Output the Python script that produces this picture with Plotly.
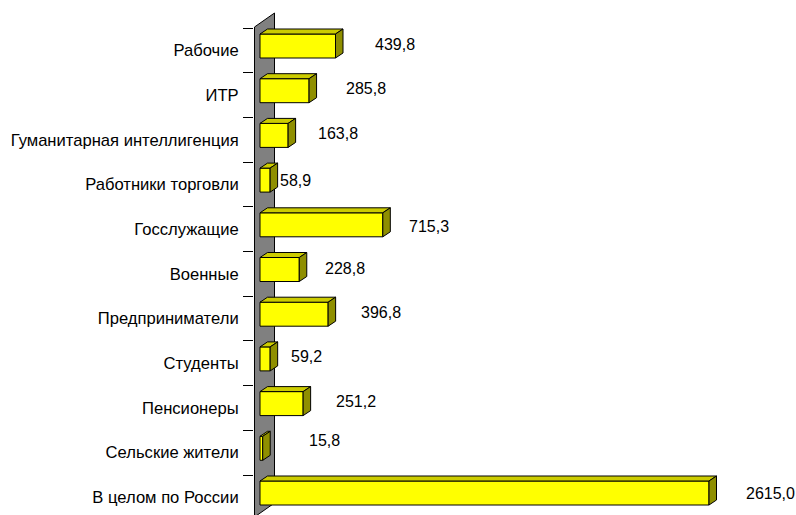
import plotly.graph_objects as go

# ---- data -------------------------------------------------------------
categories = [
    "Рабочие",
    "ИТР",
    "Гуманитарная интеллигенция",
    "Работники торговли",
    "Госслужащие",
    "Военные",
    "Предприниматели",
    "Студенты",
    "Пенсионеры",
    "Сельские жители",
    "В целом по России",
]
values = [439.8, 285.8, 163.8, 58.9, 715.3, 228.8, 396.8, 59.2, 251.2, 15.8, 2615.0]

# hand-placed offsets of the value labels (pixels, relative to the bar end)
label_dx_px = [37, 35, 28, 8, 24, 24, 31, 19, 31, 44, 35]
label_dy_px = [2, 2, 2, 0, -2, 1, 2, 2, 2, 8, 0]

# ---- geometry ---------------------------------------------------------
W, H = 796, 515
PLOT_LEFT = 254          # left edge of the plotting area (px)
ZERO_PX = 260            # pixel where value 0 sits
PX_PER_UNIT = 0.1717     # horizontal scale
BAND_PX = 44.7           # height of one category band
FIRST_TICK_PX = 28       # top boundary of the first band

def vx(px):
    """pixel column -> value units"""
    return (px - ZERO_PX) / PX_PER_UNIT

def uy(py):
    """pixel row -> category units"""
    return -0.5 + (py - FIRST_TICK_PX) / BAND_PX

DX = 7.5 / PX_PER_UNIT       # depth of a bar, value units
DY = -5.0 / BAND_PX          # depth of a bar, category units (up)
FRONT_TOP = 6.0 / BAND_PX    # front face top below band boundary
FRONT_BOT = 30.0 / BAND_PX   # front face bottom below band boundary

n = len(categories)
idx = list(range(n))
u_top = [i - 0.5 + FRONT_TOP for i in idx]
u_bot = [i - 0.5 + FRONT_BOT for i in idx]
centers = [(a + b) / 2 for a, b in zip(u_top, u_bot)]
bar_w = FRONT_BOT - FRONT_TOP

FONT = dict(family="Liberation Sans, Arial, sans-serif", size=16, color="black")
CAT_FONT = dict(FONT, size=16.6)

fig = go.Figure()

# top faces of the 3-D bars
tx, ty = [], []
for v, t in zip(values, u_top):
    tx += [0, v, v + DX, DX, 0, None]
    ty += [t, t, t + DY, t + DY, t, None]
fig.add_trace(go.Scatter(x=tx, y=ty, mode="lines", fill="toself",
                         fillcolor="#CCCC00", line=dict(color="black", width=1),
                         hoverinfo="skip", showlegend=False))

# side faces
sx, sy = [], []
for v, t, b in zip(values, u_top, u_bot):
    sx += [v, v + DX, v + DX, v, v, None]
    sy += [t, t + DY, b + DY, b, t, None]
fig.add_trace(go.Scatter(x=sx, y=sy, mode="lines", fill="toself",
                         fillcolor="#8F8F00", line=dict(color="black", width=1),
                         hoverinfo="skip", showlegend=False))

# front faces
fig.add_trace(go.Bar(orientation="h", x=values, y=centers, base=0, width=bar_w,
                     marker=dict(color="#FFFF00", line=dict(color="black", width=1)),
                     hoverinfo="skip", showlegend=False))

# value labels
for v, c, dxp, dyp in zip(values, centers, label_dx_px, label_dy_px):
    fig.add_annotation(x=v, y=c, xref="x", yref="y",
                       text=f"{v:.1f}".replace(".", ","),
                       showarrow=False, xanchor="left", yanchor="middle",
                       xshift=dxp, yshift=dyp, font=FONT)

# grey side wall
wf, wb = vx(254.5), vx(274.5)
wall = (f"M {wf},{uy(27)} L {wb},{uy(13)} L {wb},{uy(503)} "
        f"L {wf},{uy(517)} Z")
fig.add_shape(type="path", path=wall, xref="x", yref="y", layer="below",
              fillcolor="#808080", line=dict(color="black", width=1))

fig.update_layout(
    width=W, height=H,
    margin=dict(l=PLOT_LEFT, r=0, t=0, b=0),
    paper_bgcolor="white", plot_bgcolor="white",
    font=FONT,
    barmode="overlay",
    xaxis=dict(range=[vx(PLOT_LEFT), vx(W)], visible=False, fixedrange=True),
    yaxis=dict(
        range=[uy(H), uy(0)],
        tickmode="array", tickvals=idx, ticktext=categories,
        ticks="outside", ticklen=11, tickcolor="rgba(0,0,0,0)",
        showgrid=False, zeroline=False, showline=False, fixedrange=True,
        tickfont=CAT_FONT,
        minor=dict(tickmode="array", tickvals=[i - 0.5 for i in range(n + 1)],
                   ticks="outside", ticklen=10, tickcolor="black", tickwidth=1,
                   showgrid=False),
    ),
)

fig.write_html("out.html")
